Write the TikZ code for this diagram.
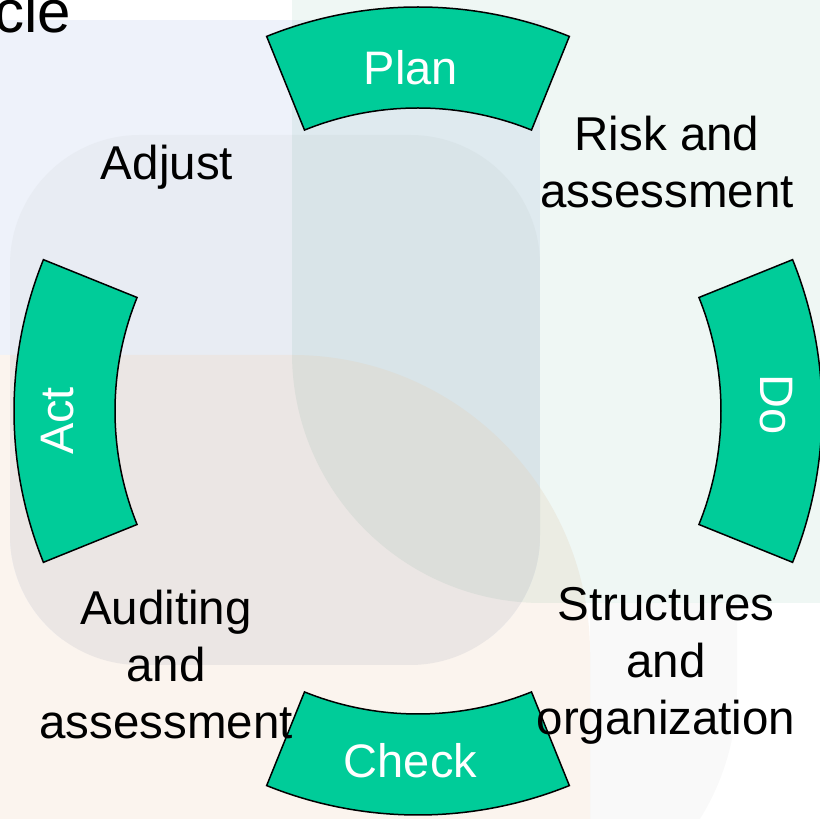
\documentclass[tikz,border=0pt]{standalone}
\usepackage{fontspec}
\setmainfont{Liberation Sans}
\definecolor{segGreen}{RGB}{0,204,153}
\definecolor{bgBlue}{RGB}{238,242,250}
\definecolor{bgPeach}{RGB}{251,244,238}
\definecolor{greyBlue}{RGB}{232,236,243}
\definecolor{greyPeach}{RGB}{235,230,228}
\definecolor{bgGreen}{RGB}{239,247,244}
\definecolor{bgK}{RGB}{249,249,249}
\tikzset{
  seg/.style={fill=segGreen, draw=black, line width=1.5pt},
  segtext/.style={text=white, font=\fontsize{47}{57}\selectfont, inner sep=0pt},
  lbl/.style={text=black, font=\fontsize{47.5}{57}\selectfont, align=center, inner sep=0pt},
}
\begin{document}
\begin{tikzpicture}[x=1pt,y=1pt]
\useasboundingbox (0,0) rectangle (820,819);
% background panels
\fill[bgBlue] (0,179) rectangle (540,799);
\fill[bgPeach] (-10,-10) -- (-10,464) -- (292,464) arc[start angle=90,end angle=0,radius=298] -- (590,-10) -- cycle;
\begin{scope}
  \clip[rounded corners=130pt] (10,154) rectangle (540,684);
  \fill[greyBlue] (0,179) rectangle (540,799);
  \fill[greyPeach] (-10,-10) -- (-10,464) -- (292,464) arc[start angle=90,end angle=0,radius=298] -- (590,-10) -- cycle;
\end{scope}
\begin{scope}[blend mode=multiply]
  \fill[bgGreen] (292,830) -- (292,466) arc[start angle=180,end angle=270,radius=250] -- (830,216) -- (830,830) -- cycle;
  \fill[bgK] (590,-10) -- (590,216) -- (737,216) -- (737,129) arc[start angle=0,end angle=-33,radius=243] -- (690,-10) -- cycle;
\end{scope}
% title fragment
\node[anchor=base east, inner sep=0pt, font=\fontsize{60}{66}\selectfont] (title) at (71,786) {cle};
% cycle segments
\begin{scope}[shift={(418,408)}]
  \draw[seg] (68:404) arc[start angle=68,end angle=112,radius=404] -- (112:303) arc[start angle=112,end angle=68,radius=303] -- cycle;
  \draw[seg] (-22:404) arc[start angle=-22,end angle=22,radius=404] -- (22:303) arc[start angle=22,end angle=-22,radius=303] -- cycle;
  \draw[seg] (-112:404) arc[start angle=-112,end angle=-68,radius=404] -- (-68:303) arc[start angle=-68,end angle=-112,radius=303] -- cycle;
  \draw[seg] (158:404) arc[start angle=158,end angle=202,radius=404] -- (202:303) arc[start angle=202,end angle=158,radius=303] -- cycle;
\end{scope}
\node[segtext, anchor=base] (plan) at (411,734) {Plan};
\node[segtext, anchor=base] (check) at (410.5,41) {Check};
\node[segtext, anchor=base, rotate=90] (act) at (73,398) {Act};
\node[segtext, anchor=base, rotate=-90] (do) at (760,414) {Do};
% labels
\node[lbl, anchor=base] (adjust) at (167,639) {Adjust};
\node[lbl, anchor=north] (risk) at (667,703) {Risk and\\assessment};
\node[lbl, anchor=north] (audit) at (166,229) {Auditing\\and\\assessment};
\node[lbl, anchor=north] (struct) at (666,232) {Structures\\and\\organization};
\end{tikzpicture}
\end{document}
